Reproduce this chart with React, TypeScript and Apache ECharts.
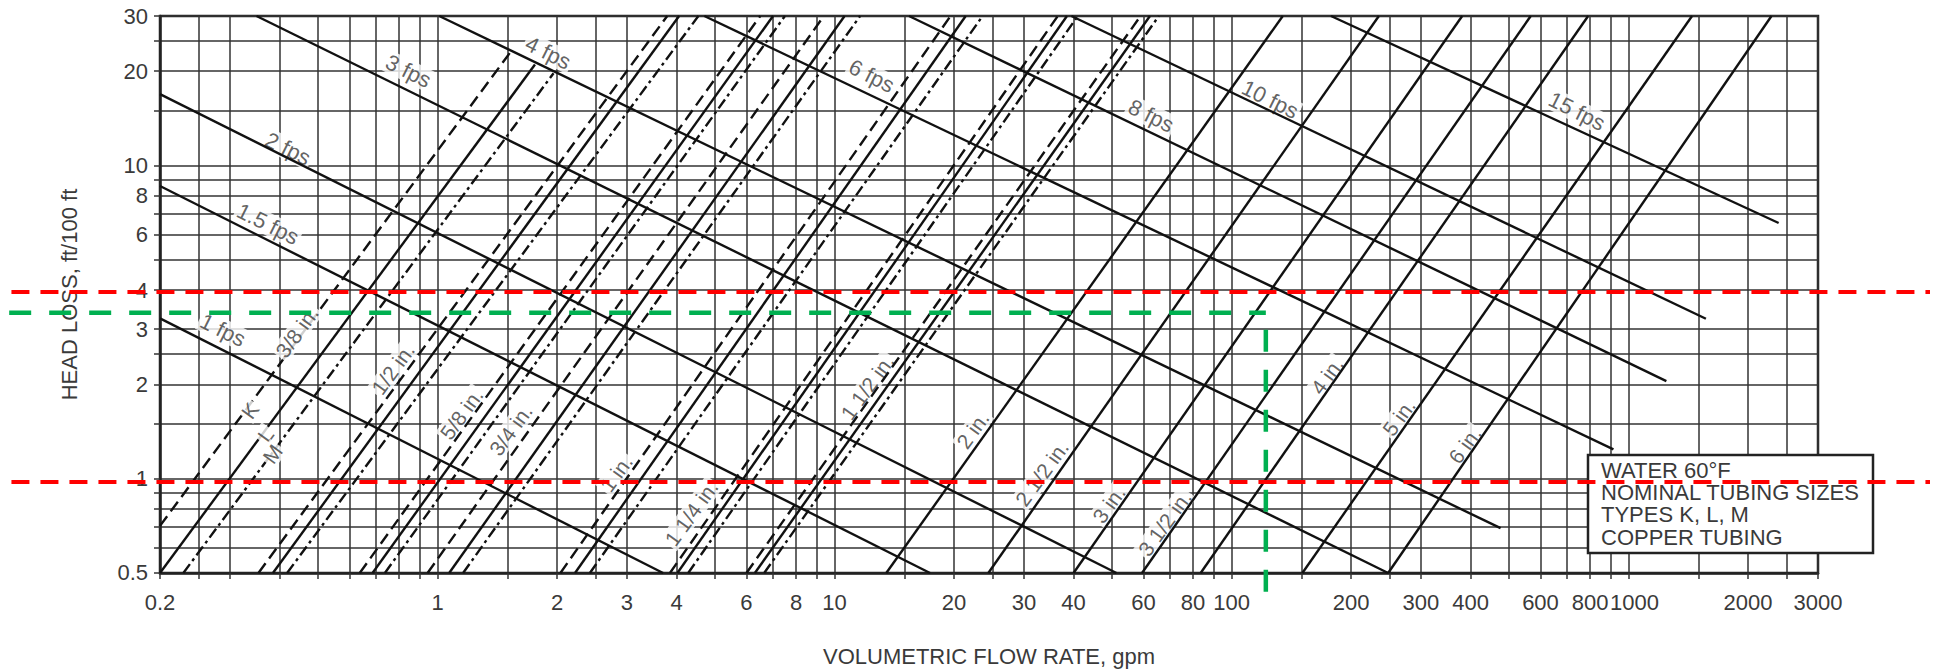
import React, { useEffect, useRef } from "react";
import * as echarts from "echarts";

// ---------- axis data ----------
const xGridValues = [0.2, 0.25, 0.3, 0.4, 0.5, 0.6, 0.7, 0.8, 0.9, 1, 1.5, 2, 2.5, 3, 4, 5, 6, 7, 8, 9, 10, 15, 20, 25, 30, 40, 50, 60, 70, 80, 90, 100, 150, 200, 250, 300, 400, 500, 600, 700, 800, 900, 1000, 1500, 2000, 2500, 3000];
const yGridValues = [0.5, 0.6, 0.7, 0.8, 0.9, 1, 1.5, 2, 2.5, 3, 4, 5, 6, 7, 8, 9, 10, 15, 20, 25, 30];
const xTickLabels = [0.2, 1, 2, 3, 4, 6, 8, 10, 20, 30, 40, 60, 80, 100, 200, 300, 400, 600, 800, 1000, 2000, 3000];
const yTickLabels = [0.5, 1, 2, 3, 4, 6, 8, 10, 20, 30];
const X_MIN = 0.2, X_MAX = 3000, Y_MIN = 0.5, Y_MAX = 30;

// ---------- velocity lines (flow gpm, head loss ft/100ft) ----------
const velocityNames = ["1 fps", "1.5 fps", "2 fps", "3 fps", "4 fps", "6 fps", "8 fps", "10 fps", "15 fps"];
const velocityStart = [[0.2, 3.25], [0.2, 8.6], [0.2, 16.9], [0.35, 30], [1.01, 30], [4.7, 30], [15.4, 30], [39.5, 30], [178, 30]];
const velocityEnd = [[3.7, 0.5], [17.4, 0.5], [51.3, 0.5], [248, 0.5], [476, 0.695], [916, 1.24], [1245, 2.05], [1566, 3.24], [2388, 6.55]];
const velocityLabelAt = [[0.288, 2.98], [0.374, 6.5], [0.42, 11.3], [0.845, 20], [1.9, 22.9], [12.4, 19.3], [62.7, 14.4], [125, 16.25], [741, 14.9]];

// ---------- tube sizes with K, L, M types ----------
const smallSizes = ["3/8", "1/2", "5/8", "3/4", "1", "1 1/4", "1 1/2"];
const typeKStart = [[0.2, 0.707], [0.354, 0.5], [0.637, 0.5], [0.944, 0.5], [2.04, 0.5], [3.85, 0.5], [6.0, 0.5]];
const typeKEnd = [[1.53, 23.1], [3.79, 30], [6.5, 30], [9.4, 30], [19.6, 30], [36.5, 30], [59, 30]];
const typeLStart = [[0.2, 0.5], [0.385, 0.5], [0.686, 0.5], [1.07, 0.5], [2.22, 0.5], [4.02, 0.5], [6.3, 0.5]];
const typeLEnd = [[1.76, 21.0], [4.06, 30], [7.0, 30], [10.6, 30], [21.4, 30], [38.5, 30], [62.3, 30]];
const typeMStart = [[0.229, 0.5], [0.418, 0.5], [0.737, 0.5], [1.16, 0.5], [2.42, 0.5], [4.28, 0.5], [6.65, 0.5]];
const typeMEnd = [[1.96, 19.7], [4.54, 30], [7.5, 30], [11.6, 30], [23.6, 30], [41, 30], [65.6, 30]];

// ---------- large tube sizes (single line) ----------
const largeSizes = ["2", "2 1/2", "3", "3 1/2", "4", "5", "6"];
const largeFlowAtBottom = [13.5, 24.4, 40, 59.5, 83.6, 150.8, 248];
const largeFlowAtTop = [134.6, 235, 381, 567, 791, 1445, 2291];

// ---------- size labels ----------
const sizeLabelText = ["1/2 in.", "5/8 in.", "3/4 in.", "1 in.", "1 1/4 in.", "1 1/2 in.", "2 in.", "2 1/2 in.", "3 in.", "3 1/2 in.", "4 in.", "5 in.", "6 in."];
const sizeLabelAt = [[0.773, 2.24], [1.15, 1.61], [1.53, 1.43], [2.82, 1.04], [4.36, 0.776], [12.1, 1.96], [22.3, 1.43], [33.3, 1.04], [49.1, 0.827], [67.9, 0.72], [174, 2.13], [264, 1.57], [387, 1.28]];
const onLineLabelText = ["3/8 in.", "K", "L", "M"];
const onLineLabelAt = [[0.443, 2.94], [0.337, 1.65], [0.369, 1.38], [0.384, 1.2]];

// ---------- reference lines ----------
const redHeadLevels = [4, 1];
const redFlowSpan = [0.0845, 5744];
const greenHead = 3.44;
const greenFlow = 122;
const greenFlowStart = 0.0834;
const greenHeadBottom = 0.449;

const legendLines = ["WATER 60°F", "NOMINAL TUBING SIZES", "TYPES K, L, M", "COPPER TUBING"];

const FONT = "'Liberation Sans', Arial, Helvetica, sans-serif";
const TEXT = "#3a3a3a";
const INK = "#111111";

// layout (pixels)
const W = 1938, H = 672;
const G_LEFT = 160, G_RIGHT = 120, G_TOP = 16, G_BOTTOM = 95;

const inside = (vals: number[], lo: number, hi: number) =>
  vals.map((v) => (v <= lo ? lo * 1.000001 : v >= hi ? hi * 0.999999 : v));
const fmt = (v: number) => (v < 1 ? String(Math.round(v * 10) / 10) : String(Math.round(v)));

// extend a log range to a wider pixel span (for the overlay grid covering the whole page)
function extendLog(lo: number, hi: number, spanPx: number, beforePx: number, afterPx: number) {
  const dec = Math.log10(hi / lo);
  const pxPerDec = spanPx / dec;
  return [lo * Math.pow(10, -beforePx / pxPerDec), hi * Math.pow(10, afterPx / pxPerDec)];
}

function lineSeries(pts: number[][], style: any, z: number, overlay = false) {
  return {
    type: "line",
    data: pts,
    symbol: "none",
    showSymbol: false,
    silent: true,
    z,
    xAxisIndex: overlay ? 1 : 0,
    yAxisIndex: overlay ? 1 : 0,
    lineStyle: style,
  };
}

function labelSeries(texts: string[], at: number[][], rotate: number, z: number, fontSize: number) {
  return {
    type: "scatter",
    data: at.map((p, i) => [p[0], p[1], texts[i]]),
    symbolSize: 1,
    itemStyle: { color: "rgba(0,0,0,0)" },
    silent: true,
    z,
    label: {
      show: true,
      position: "inside",
      formatter: (p: any) => p.data[2],
      rotate,
      fontSize,
      fontFamily: FONT,
      color: TEXT,
      backgroundColor: "#ffffff",
      padding: [0, 2],
    },
  };
}

export default function App() {
  const ref = useRef<HTMLDivElement>(null);
  useEffect(() => {
    const chart = echarts.init(ref.current!, null, { renderer: "svg" });
    const solid = { color: INK, width: 2.4, type: "solid" };
    const dashed = { color: INK, width: 2.4, type: [12, 6] };
    const dashDot = { color: INK, width: 2.4, type: [11, 4, 3, 4] };
    const series: any[] = [];

    velocityStart.forEach((s, i) => series.push(lineSeries([s, velocityEnd[i]], solid, 3)));
    smallSizes.forEach((_, i) => {
      series.push(lineSeries([typeKStart[i], typeKEnd[i]], dashed, 3));
      series.push(lineSeries([typeLStart[i], typeLEnd[i]], solid, 3));
      series.push(lineSeries([typeMStart[i], typeMEnd[i]], dashDot, 3));
    });
    largeSizes.forEach((_, i) =>
      series.push(lineSeries([[largeFlowAtBottom[i], Y_MIN], [largeFlowAtTop[i], Y_MAX]], solid, 3))
    );

    series.push(labelSeries(velocityNames, velocityLabelAt, -26.5, 2, 22));
    series.push(labelSeries(sizeLabelText, sizeLabelAt, 54, 2, 21));
    series.push(labelSeries(onLineLabelText, onLineLabelAt, 54, 4, 21));

    const redStyle = { color: "#ff0000", width: 4, type: [18, 11] };
    redHeadLevels.forEach((h) =>
      series.push(lineSeries([[redFlowSpan[0], h], [redFlowSpan[1], h]], redStyle, 10, true))
    );
    const greenStyle = { color: "#00b050", width: 4.5, type: [22, 18] };
    series.push(lineSeries([[greenFlowStart, greenHead], [greenFlow, greenHead]], greenStyle, 10, true));
    series.push(lineSeries([[greenFlow, greenHeadBottom], [greenFlow, greenHead]], greenStyle, 10, true));

    const plotW = W - G_LEFT - G_RIGHT;
    const plotH = H - G_TOP - G_BOTTOM;
    const xOver = extendLog(X_MIN, X_MAX, plotW, G_LEFT, G_RIGHT);
    const yOver = extendLog(Y_MIN, Y_MAX, plotH, G_BOTTOM, G_TOP);

    const gridLine = { show: true, lineStyle: { color: "#333333", width: 1.5 } };
    const option: any = {
      animation: false,
      backgroundColor: "#ffffff",
      textStyle: { fontFamily: FONT },
      grid: [
        { left: G_LEFT, right: G_RIGHT, top: G_TOP, bottom: G_BOTTOM, show: true, borderColor: "#222", borderWidth: 2.5, backgroundColor: "transparent" },
        { left: 0, right: 0, top: 0, bottom: 0, show: false },
      ],
      xAxis: [
        {
          type: "log",
          logBase: 10,
          min: X_MIN,
          max: X_MAX,
          gridIndex: 0,
          name: "VOLUMETRIC FLOW RATE, gpm",
          nameLocation: "middle",
          nameGap: 72,
          nameTextStyle: { fontSize: 22, color: TEXT, fontFamily: FONT },
          axisLine: { show: true, lineStyle: { color: "#222", width: 2.5 } },
          axisTick: { show: true, length: 6, inside: false, customValues: inside(xGridValues, X_MIN, X_MAX), lineStyle: { color: "#333333", width: 1.5 } },
          axisLabel: {
            customValues: inside(xTickLabels, X_MIN, X_MAX),
            fontSize: 22,
            color: TEXT,
            fontFamily: FONT,
            margin: 18,
            formatter: (v: number) => (Math.round(v) === 1000 ? "{shift|1000}" : fmt(v)),
            rich: { shift: { fontSize: 22, color: TEXT, fontFamily: FONT, padding: [0, 0, 0, 12] } },
          },
          splitLine: gridLine,
          minorTick: { show: false },
          minorSplitLine: { show: false },
        },
        { type: "log", logBase: 10, min: xOver[0], max: xOver[1], gridIndex: 1, show: false },
      ],
      yAxis: [
        {
          type: "log",
          logBase: 10,
          min: Y_MIN,
          max: Y_MAX,
          gridIndex: 0,
          name: "HEAD LOSS, ft/100 ft",
          nameLocation: "middle",
          nameGap: 80,
          nameRotate: 90,
          nameTextStyle: { fontSize: 22, color: TEXT, fontFamily: FONT },
          axisLine: { show: true, lineStyle: { color: "#222", width: 2.5 } },
          axisTick: { show: true, length: 6, inside: false, customValues: inside(yGridValues, Y_MIN, Y_MAX), lineStyle: { color: "#333333", width: 1.5 } },
          axisLabel: {
            customValues: inside(yTickLabels, Y_MIN, Y_MAX),
            fontSize: 22,
            color: TEXT,
            fontFamily: FONT,
            margin: 12,
            formatter: (v: number) => fmt(v),
          },
          splitLine: gridLine,
          minorTick: { show: false },
          minorSplitLine: { show: false },
        },
        { type: "log", logBase: 10, min: yOver[0], max: yOver[1], gridIndex: 1, show: false },
      ],
      graphic: [
        {
          type: "group",
          z: 5,
          children: [
            { type: "rect", z: 5, shape: { x: 1588, y: 455, width: 285, height: 98 }, style: { fill: "#ffffff", stroke: "#222", lineWidth: 2.5 } },
            ...legendLines.map((t, i) => ({
              type: "text",
              z: 6,
              x: 1601,
              y: 470 + i * 22.4,
              style: { text: t, fill: TEXT, font: `22px ${FONT}`, verticalAlign: "middle", align: "left" },
            })),
          ],
        },
      ],
      series,
    };
    chart.setOption(option);
    return () => chart.dispose();
  }, []);
  return (
    <div
      ref={ref}
      style={{ position: "absolute", left: 0, top: 0, width: W, height: H, background: "#fff" }}
    />
  );
}
